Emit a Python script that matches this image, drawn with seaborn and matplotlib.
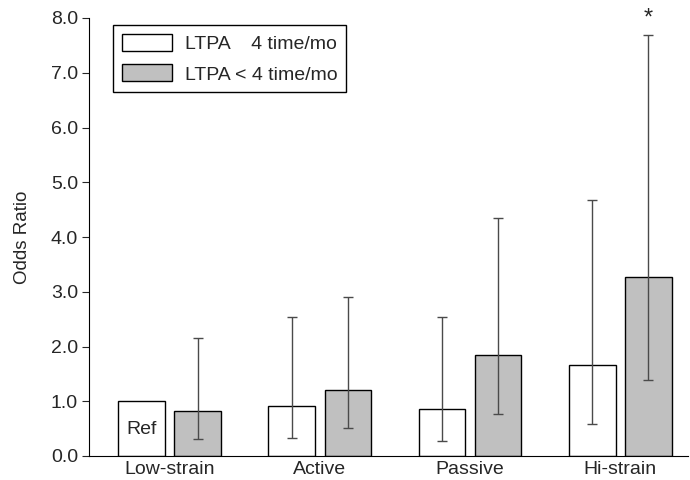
import matplotlib
matplotlib.use("Agg")
import matplotlib.pyplot as plt
import seaborn as sns
import pandas as pd
import numpy as np

categories = ["Low-strain", "Active", "Passive", "Hi-strain"]
series_names = ["LTPA    4 time/mo", "LTPA < 4 time/mo"]
or_high = [1.0, 0.92, 0.85, 1.67]
ci_low_high = [np.nan, 0.33, 0.28, 0.59]
ci_up_high = [np.nan, 2.54, 2.54, 4.68]
or_low = [0.82, 1.20, 1.85, 3.27]
ci_low_low = [0.31, 0.51, 0.77, 1.39]
ci_up_low = [2.15, 2.90, 4.35, 7.69]
yticks = [0.0, 1.0, 2.0, 3.0, 4.0, 5.0, 6.0, 7.0, 8.0]

df = pd.DataFrame({
    "Job": categories * 2,
    "Group": [series_names[0]] * 4 + [series_names[1]] * 4,
    "OR": or_high + or_low,
    "lo": ci_low_high + ci_low_low,
    "hi": ci_up_high + ci_up_low,
})

sns.set_style("ticks")
plt.rcParams["font.family"] = ["Liberation Sans", "DejaVu Sans"]

fig = plt.figure(figsize=(6.9, 4.8), dpi=100)
ax = fig.add_axes([0.129, 0.05, 0.868, 0.9125])

sns.barplot(data=df, x="Job", y="OR", hue="Group", order=categories,
            hue_order=series_names, palette=["white", "#c0c0c0"],
            edgecolor="black", linewidth=1.0, width=0.748, gap=0.17,
            errorbar=None, ax=ax)

patches = [p for p in ax.patches if p.get_height() > 0][:8]
patches = sorted(patches, key=lambda p: p.get_x())
for p in patches:
    xc = p.get_x() + p.get_width() / 2
    h = p.get_height()
    row = df[np.isclose(df["OR"], h)].iloc[0]
    if np.isnan(row["lo"]):
        continue
    ax.errorbar([xc], [h], yerr=[[h - row["lo"]], [row["hi"] - h]],
                fmt="none", ecolor="#4a4a4a", elinewidth=1.0,
                capsize=3.8, capthick=1.0, zorder=3)
    if row["Job"] == "Hi-strain" and row["Group"] == series_names[1]:
        ax.text(xc, row["hi"] + 0.1, "*", ha="center", va="bottom", fontsize=17)

ref = [p for p in patches if np.isclose(p.get_height(), or_high[0])][0]
ax.text(ref.get_x() + ref.get_width() / 2, 0.48, "Ref", ha="center", va="center", fontsize=14)

ax.set_xlim(-0.536, 3.45)
ax.set_ylim(0, 8)
ax.set_yticks(yticks)
ax.set_yticklabels([f"{v:.1f}" for v in yticks], fontsize=14)
ax.tick_params(axis="x", length=0, labelsize=14, pad=3.5)
ax.tick_params(axis="y", length=5, width=0.8, direction="out", pad=3)
ax.set_xlabel("")
ax.set_ylabel("Odds Ratio", fontsize=13.5, labelpad=14)
for s in ["top", "right"]:
    ax.spines[s].set_visible(False)
for s in ["left", "bottom"]:
    ax.spines[s].set_linewidth(0.8)
    ax.spines[s].set_color("black")

leg = ax.legend(loc="upper left", bbox_to_anchor=(0.04, 0.984), borderaxespad=0,
                fontsize=14, frameon=True, fancybox=False, edgecolor="black",
                handlelength=2.6, handleheight=0.95, handletextpad=0.65,
                labelspacing=0.6, borderpad=0.45)
leg.get_frame().set_linewidth(1.0)
leg.get_frame().set_alpha(1)

fig.savefig("out.png", dpi=100)
